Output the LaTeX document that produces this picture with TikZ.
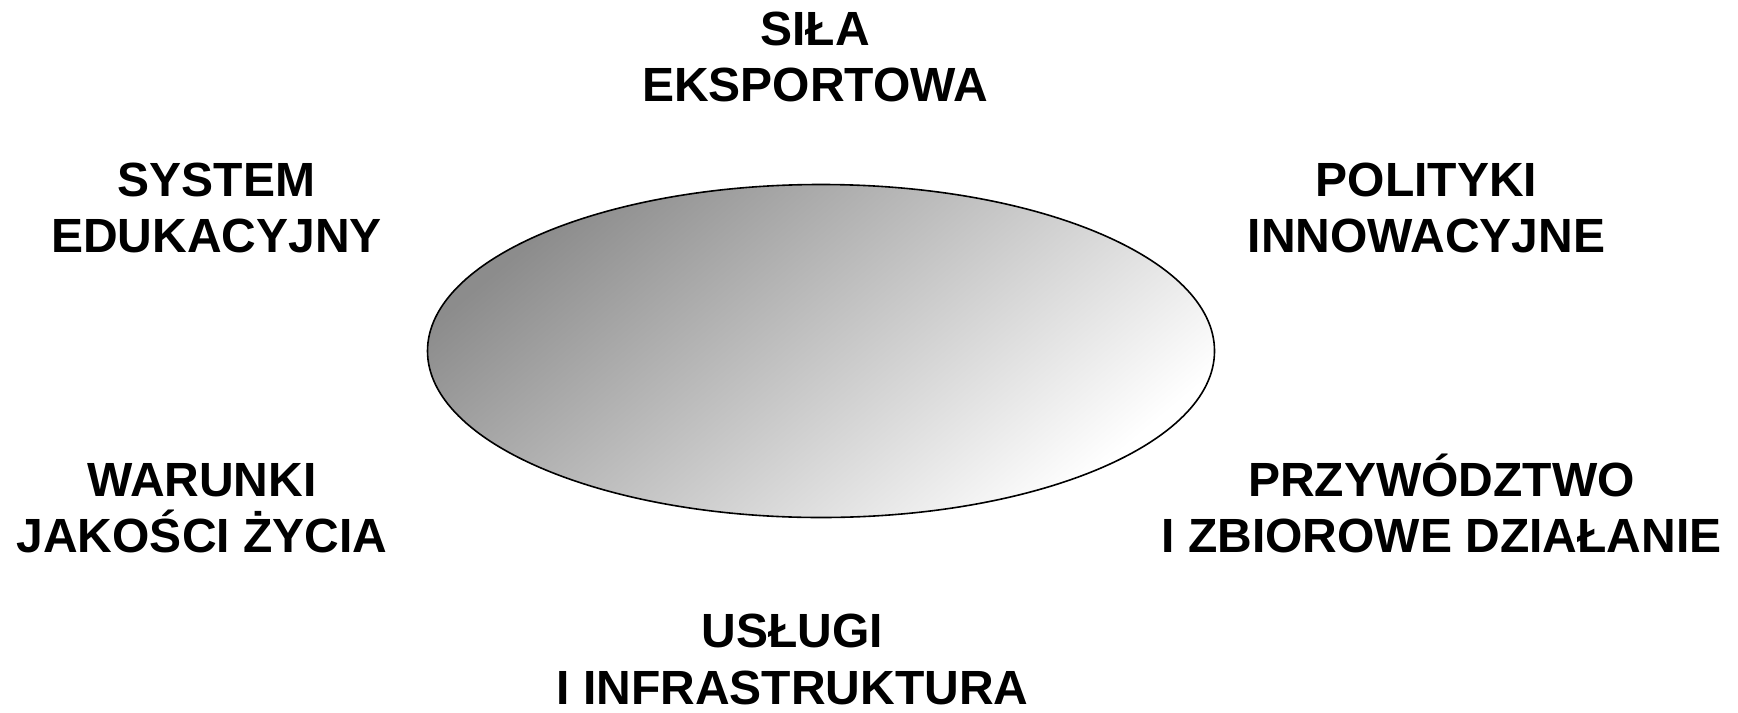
\documentclass[tikz,border=0pt]{standalone}
\usepackage{fontspec}
\setmainfont{Liberation Sans}
\begin{document}
\begin{tikzpicture}[x=0.5pt,y=-0.5pt,
  lbl/.style={font=\fontsize{24pt}{28.25pt}\selectfont\bfseries, align=center, anchor=base, inner sep=0pt},
  core/.style={draw=black, line width=0.8pt, top color=black!45, bottom color=white, shading angle=40}]
\useasboundingbox (0,0) rectangle (1738,712);
\fill[white] (0,0) rectangle (1738,712);
\path[core] (821,351) ellipse [x radius=393.5, y radius=166.5];
\node[lbl] (export) at (815,101.7) {SIŁA\\EKSPORTOWA};
\node[lbl] (edu) at (216.5,252.7) {SYSTEM\\EDUKACYJNY};
\node[lbl] (innov) at (1426.5,252.7) {POLITYKI\\INNOWACYJNE};
\node[lbl] (life) at (202,552.7) {WARUNKI\\JAKOŚCI ŻYCIA};
\node[lbl] (lead) at (1441.5,552.7) {PRZYWÓDZTWO\\I ZBIOROWE DZIAŁANIE};
\node[lbl] (serv) at (792.5,704) {USŁUGI\\I INFRASTRUKTURA};
\end{tikzpicture}
\end{document}
